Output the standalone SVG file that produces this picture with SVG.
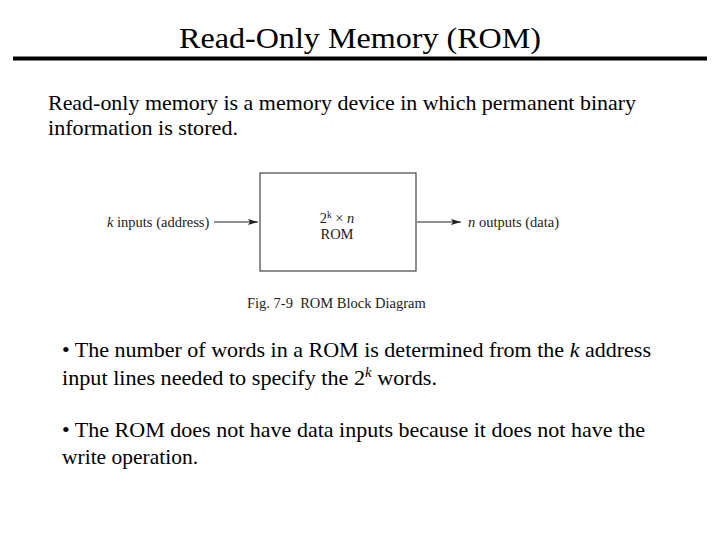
<svg xmlns="http://www.w3.org/2000/svg" width="720" height="540" viewBox="0 0 720 540">
<style>
  .serif { font-family: "Liberation Serif", "Times New Roman", serif; fill: #000; }
  .title { font-size: 29px; }
  .body { font-size: 21px; }
  .fig { font-family: "Liberation Serif", "Times New Roman", serif; font-size: 14.5px; fill: #222; }
  .conn { stroke: #222; stroke-width: 1.2; fill: none; }
  .box { stroke: #444; stroke-width: 1.2; fill: #fff; }
</style>
<defs>
  <marker id="arr" viewBox="0 0 10 6" refX="10" refY="3" markerWidth="10" markerHeight="6" markerUnits="userSpaceOnUse" orient="auto">
    <path d="M0,0 L10,3 L0,6 L2,3 Z" fill="#222"/>
  </marker>
</defs>
<rect width="720" height="540" fill="#fff"/>
<g id="title">
  <text class="serif title" x="360" y="48" text-anchor="middle" textLength="362" lengthAdjust="spacingAndGlyphs">Read-Only Memory (ROM)</text>
  <line x1="13" y1="58.5" x2="707" y2="58.5" stroke="#000" stroke-width="4"/>
</g>
<g id="intro">
  <text class="serif body" x="48" y="110" textLength="588" lengthAdjust="spacingAndGlyphs">Read-only memory is a memory device in which permanent binary</text>
  <text class="serif body" x="48" y="135" textLength="190" lengthAdjust="spacingAndGlyphs">information is stored.</text>
</g>
<g id="rom">
  <rect class="box" x="260" y="173" width="156" height="98"/>
  <text class="fig" x="337" y="223" text-anchor="middle">2<tspan font-size="9.5" dy="-5">k</tspan><tspan dy="5"> × </tspan><tspan font-style="italic">n</tspan></text>
  <text class="fig" x="337" y="239" text-anchor="middle">ROM</text>
</g>
<g id="input-label">
  <text class="fig" x="107" y="227"><tspan font-style="italic">k</tspan> inputs (address)</text>
</g>
<g id="output-label">
  <text class="fig" x="468" y="227"><tspan font-style="italic">n</tspan> outputs (data)</text>
</g>
<g id="connectors">
  <line class="conn" x1="214" y1="222" x2="258" y2="222" marker-end="url(#arr)"/>
  <line class="conn" x1="417" y1="222" x2="461" y2="222" marker-end="url(#arr)"/>
</g>
<g id="caption">
  <text class="fig" x="247" y="308" xml:space="preserve">Fig. 7-9  ROM Block Diagram</text>
</g>
<g id="bullets">
  <text class="serif body" x="62" y="357" textLength="589" lengthAdjust="spacingAndGlyphs">• The number of words in a ROM is determined from the <tspan font-style="italic">k</tspan> address</text>
  <text class="serif body" x="62" y="385" textLength="375" lengthAdjust="spacingAndGlyphs">input lines needed to specify the 2<tspan font-size="14" font-style="italic" dy="-8">k</tspan><tspan dy="8"> words.</tspan></text>
  <text class="serif body" x="62" y="437" textLength="583" lengthAdjust="spacingAndGlyphs">• The ROM does not have data inputs because it does not have the</text>
  <text class="serif body" x="62" y="464" textLength="136" lengthAdjust="spacingAndGlyphs">write operation.</text>
</g>
</svg>
